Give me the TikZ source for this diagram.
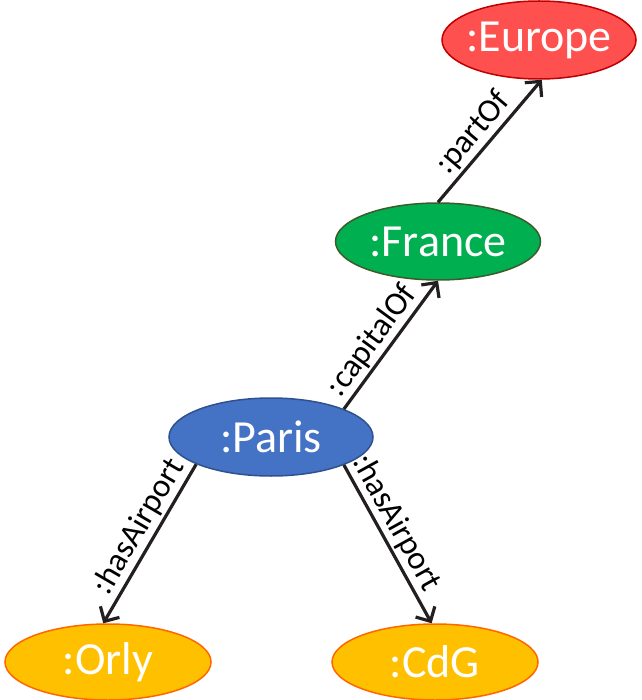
\documentclass[tikz,border=0pt]{standalone}
\usepackage{fontspec}
\setmainfont{Carlito}
\usetikzlibrary{shapes.geometric,arrows.meta}
\definecolor{eurofill}{HTML}{FF5050}
\definecolor{euroline}{HTML}{C00000}
\definecolor{frfill}{HTML}{00B050}
\definecolor{frline}{HTML}{3D5A2A}
\definecolor{pafill}{HTML}{4472C4}
\definecolor{paline}{HTML}{2F528F}
\definecolor{apfill}{HTML}{FFC000}
\definecolor{apline}{HTML}{FF6600}
\definecolor{edgecol}{HTML}{231F20}
\tikzset{
  res/.style={ellipse, inner sep=0pt, line width=1.5pt, text=white,
    font=\fontsize{46}{46}\selectfont},
  rel/.style={draw=edgecol, line width=3.2pt, -{Straight Barb[length=11pt,width=22pt,line width=3.2pt]}},
  lbl/.style={sloped, above, font=\fontsize{33}{33}\selectfont, text=black, inner sep=2pt}
}
\begin{document}
\begin{tikzpicture}[x=1pt,y=-1pt]
\useasboundingbox (0,0) rectangle (641,700);
\node[res, fill=eurofill, draw=euroline, minimum width=194pt, minimum height=78pt] (europe) at (539,40) {\makebox[0pt]{:Europe}};
\node[res, fill=frfill, draw=frline, minimum width=205pt, minimum height=77pt] (france) at (438,241.5) {\makebox[0pt]{:France}};
\node[res, fill=pafill, draw=paline, minimum width=204pt, minimum height=78pt] (paris) at (271,437) {\makebox[0pt]{:Paris}};
\node[res, fill=apfill, draw=apline, minimum width=206pt, minimum height=76pt] (orly) at (108,662) {\makebox[0pt]{:Orly}};
\node[res, fill=apfill, draw=apline, minimum width=206pt, minimum height=76pt] (cdg) at (435,662) {\makebox[0pt]{:CdG}};
\draw[rel] (paris.21) -- node[lbl, pos=0.45] {:capitalOf} (france.south);
\draw[rel] (france.north) -- node[lbl, pos=0.47] {:partOf} (europe.-86);
\draw[rel] (paris.200) -- node[lbl, pos=0.45] {:hasAirport} (orly.97);
\draw[rel] (paris.339) -- node[lbl, pos=0.42] {:hasAirport} (cdg.95);
\end{tikzpicture}
\end{document}
